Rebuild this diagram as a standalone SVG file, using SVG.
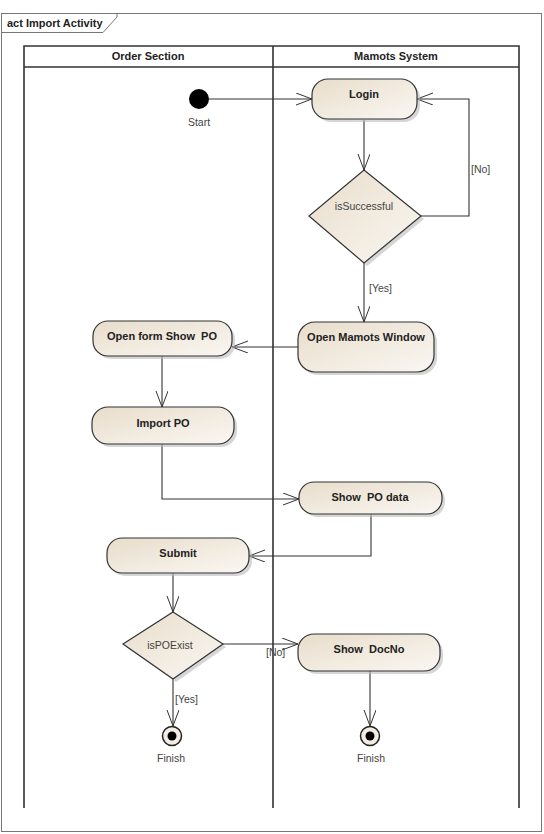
<svg xmlns="http://www.w3.org/2000/svg" width="544" height="834" viewBox="0 0 544 834">
<defs>
<linearGradient id="g" x1="0" y1="0" x2="1" y2="1">
<stop offset="0" stop-color="#E8DDCB"/>
<stop offset="1" stop-color="#FAF7F2"/>
</linearGradient>
<marker id="arr" markerUnits="userSpaceOnUse" markerWidth="18" markerHeight="14" refX="16" refY="6" orient="auto">
<path d="M0,0 L16,6 L0,12" fill="none" stroke="#333" stroke-width="1"/>
</marker>
<style>
.node{fill:url(#g);stroke:#333;stroke-width:1.2}
.shadow{fill:#bbb;opacity:0.6}
.lbl{font-family:"Liberation Sans",Arial,sans-serif;font-size:11px;font-weight:bold;fill:#222;text-anchor:middle;white-space:pre}
.sm{font-family:"Liberation Sans",Arial,sans-serif;font-size:10.5px;fill:#444;text-anchor:middle}
.guard{font-family:"Liberation Sans",Arial,sans-serif;font-size:10.5px;fill:#444}
.edge{fill:none;stroke:#333;stroke-width:1.1;marker-end:url(#arr)}
.lane{fill:none;stroke:#333;stroke-width:1.6}
</style>
</defs>
<rect width="544" height="834" fill="#fff"/>
<g id="frame">
<rect x="1.5" y="13.5" width="540" height="818" fill="none" stroke="#777" stroke-width="1"/>
<path d="M1.5,32.5 L103,32.5 L117,17 L117,13.5" fill="none" stroke="#777" stroke-width="1"/>
<text x="7" y="27" font-family="Liberation Sans,Arial,sans-serif" font-size="11" font-weight="bold" fill="#222">act Import Activity</text>
</g>
<g id="lanes">
<path class="lane" d="M24,808 L24,46 L519,46 L519,808 M24,67 L519,67 M273,46 L273,808"/>
<text class="lbl" x="148" y="60" font-size="10.5">Order Section</text>
<text class="lbl" x="396" y="60" font-size="10.5">Mamots System</text>
</g>
<g id="connectors">
<path class="edge" d="M209,99 L312,99"/>
<path class="edge" d="M364,120 L364,170"/>
<path class="edge" d="M421,216 L469,216 L469,99 L417,99"/>
<path class="edge" d="M364,263 L364,322"/>
<path class="edge" d="M298,347 L232,347"/>
<path class="edge" d="M162,356 L162,407"/>
<path class="edge" d="M162,444 L162,499 L299,499"/>
<path class="edge" d="M371,514 L371,556 L249,556"/>
<path class="edge" d="M173,573 L173,612"/>
<path class="edge" d="M223,644 L298,644"/>
<path class="edge" d="M173,679 L173,726"/>
<path class="edge" d="M370,671 L370,726"/>
<text class="guard" x="471" y="173">[No]</text>
<text class="guard" x="369" y="292">[Yes]</text>
<text class="guard" x="266" y="656">[No]</text>
<text class="guard" x="175" y="703">[Yes]</text>
</g>
<g id="start">
<circle cx="199" cy="99" r="10" fill="#000"/>
<text class="sm" x="199" y="126">Start</text>
</g>
<g id="login">
<rect class="shadow" x="315" y="82" width="105" height="40" rx="16"/>
<rect class="node" x="312" y="79" width="105" height="40" rx="16"/>
<text class="lbl" x="364" y="98">Login</text>
</g>
<g id="isSuccessful">
<path class="shadow" d="M367,173 L424,219 L367,266 L312,219 Z"/>
<path class="node" d="M364,170 L421,216 L364,263 L309,216 Z"/>
<text class="sm" x="364" y="210" font-size="11">isSuccessful</text>
</g>
<g id="openMamots">
<rect class="shadow" x="301" y="325" width="136" height="50" rx="17"/>
<rect class="node" x="298" y="322" width="136" height="50" rx="17"/>
<text class="lbl" x="366" y="341">Open Mamots Window</text>
</g>
<g id="openForm">
<rect class="shadow" x="96" y="324" width="139" height="35" rx="15"/>
<rect class="node" x="93" y="321" width="139" height="35" rx="15"/>
<text class="lbl" x="162" y="340" xml:space="preserve">Open form Show  PO</text>
</g>
<g id="importPO">
<rect class="shadow" x="95" y="410" width="142" height="37" rx="16"/>
<rect class="node" x="92" y="407" width="142" height="37" rx="16"/>
<text class="lbl" x="163" y="427">Import PO</text>
</g>
<g id="showPOData">
<rect class="shadow" x="302" y="485" width="143" height="32" rx="15"/>
<rect class="node" x="299" y="482" width="143" height="32" rx="15"/>
<text class="lbl" x="370" y="501" xml:space="preserve">Show  PO data</text>
</g>
<g id="submit">
<rect class="shadow" x="110" y="541" width="142" height="35" rx="15"/>
<rect class="node" x="107" y="538" width="142" height="35" rx="15"/>
<text class="lbl" x="178" y="557">Submit</text>
</g>
<g id="isPOExist">
<path class="shadow" d="M176,615 L226,647 L176,682 L126,647 Z"/>
<path class="node" d="M173,612 L223,644 L173,679 L123,644 Z"/>
<text class="sm" x="170" y="649" font-size="11">isPOExist</text>
</g>
<g id="showDocNo">
<rect class="shadow" x="301" y="637" width="142" height="37" rx="16"/>
<rect class="node" x="298" y="634" width="142" height="37" rx="16"/>
<text class="lbl" x="369" y="653" xml:space="preserve">Show  DocNo</text>
</g>
<g id="finish1">
<circle cx="172" cy="736" r="9.5" fill="#F3EDE3" stroke="#222" stroke-width="1.5"/>
<circle cx="172" cy="736" r="4.5" fill="#000"/>
<text class="sm" x="171" y="762">Finish</text>
</g>
<g id="finish2">
<circle cx="370" cy="736" r="9.5" fill="#F3EDE3" stroke="#222" stroke-width="1.5"/>
<circle cx="370" cy="736" r="4.5" fill="#000"/>
<text class="sm" x="371" y="762">Finish</text>
</g>
</svg>
